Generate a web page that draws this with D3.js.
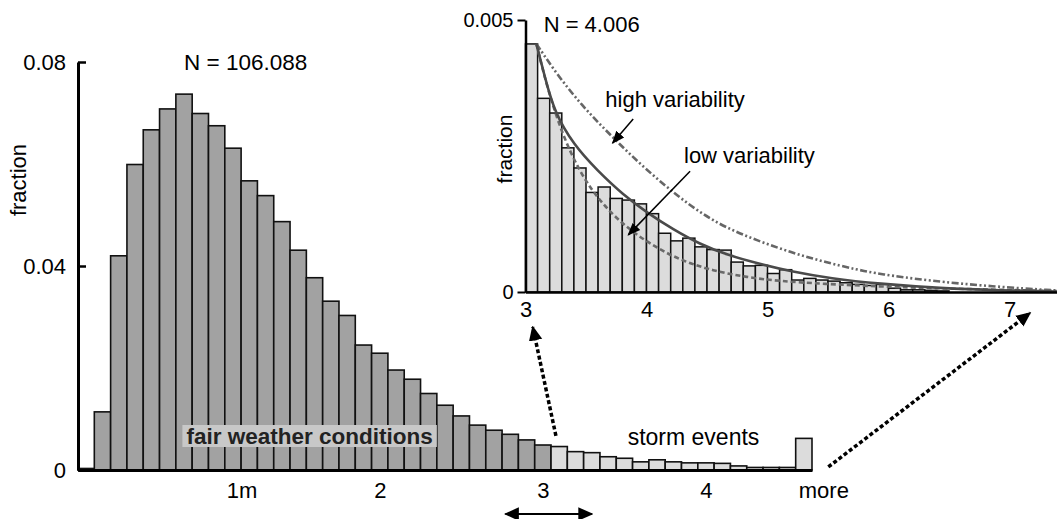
<!DOCTYPE html>
<html>
<head>
<meta charset="utf-8">
<script src="https://cdn.jsdelivr.net/npm/d3@7"></script>
<style>
body { margin: 0; background: #fff; }
svg { display: block; font-family: "Liberation Sans", Arial, Helvetica, sans-serif; }
</style>
</head>
<body>
<div id="chart"></div>
<script>
// main histogram: fraction per 0.1 m bin, first bin centred on 0.2 m, last bin = "more"
var mainFraction = [0.0003, 0.0114, 0.0420, 0.0599, 0.0667, 0.0708, 0.0737, 0.0699, 0.0675, 0.0631,
	0.0567, 0.0538, 0.0487, 0.0431, 0.0377, 0.0331, 0.0303, 0.0245, 0.0229, 0.0196,
	0.0178, 0.0150, 0.0127, 0.0106, 0.0088, 0.0078, 0.0070, 0.0059, 0.0049, 0.0046,
	0.0036, 0.0034, 0.0026, 0.0023, 0.0016, 0.0020, 0.0016, 0.0014, 0.0014, 0.0013,
	0.0008, 0.0005, 0.0005, 0.0005, 0.0062]
var mainFirstBin = 0.2
var binWidth = 0.1
var stormFrom = 3.05   // bins above this height count as storm events
var mainXTicks = [1, 2, 3, 4]
var mainXLabels = ["1m", "2", "3", "4"]
var mainYTicks = [0, 0.04, 0.08]

// inset: storm events only, bins from 3.0 m
var insetFraction = [0.00456, 0.00356, 0.00329, 0.00265, 0.00228, 0.00183, 0.00193, 0.00172, 0.00169, 0.00162,
	0.00144, 0.00108, 0.00094, 0.00099, 0.00083, 0.00078, 0.00077, 0.00055, 0.00048, 0.00049,
	0.00034, 0.00041, 0.00022, 0.00025, 0.00022, 0.00020, 0.00017, 0.00014, 0.00012, 0.00014,
	0.00007, 0.00004, 0.00004, 0.00003, 0.00002]
var insetFirstBin = 3.0
var insetXTicks = [3, 4, 5, 6, 7]
var insetYTicks = [0, 0.005]

// fitted curves: [height m, fraction]
var fitCurve = [[3.09, 0.00456], [3.16, 0.00395], [3.24, 0.00330], [3.40, 0.00270], [3.59, 0.00224],
	[3.81, 0.00178], [4.01, 0.00145], [4.22, 0.00115], [4.44, 0.00088], [4.67, 0.00068],
	[4.91, 0.00053], [5.21, 0.00037], [5.52, 0.00025], [5.92, 0.00015], [6.43, 0.000070],
	[6.92, 0.000030], [7.39, 0.000010]]
var lowVarCurve = [[3.09, 0.00456], [3.18, 0.00375], [3.30, 0.00292], [3.45, 0.00219], [3.62, 0.00165],
	[3.82, 0.00121], [4.03, 0.00088], [4.28, 0.00058], [4.55, 0.00039], [4.83, 0.00027],
	[5.10, 0.00020], [5.46, 0.00015], [5.93, 0.00010], [6.51, 0.000060], [7.39, 0.000018]]
var highVarCurve = [[3.09, 0.00456], [3.27, 0.00397], [3.47, 0.00342], [3.66, 0.00298], [3.85, 0.00256],
	[4.05, 0.00215], [4.26, 0.00176], [4.45, 0.00145], [4.65, 0.00119], [4.91, 0.00095],
	[5.19, 0.00073], [5.46, 0.00056], [5.74, 0.00041], [5.93, 0.00033], [6.32, 0.00021],
	[6.86, 0.00010], [7.39, 0.000028]]

var w = 1057, h = 519

var svg = d3.select("#chart")
	.append("svg")
	.attr("width", w)
	.attr("height", h)

// arrow heads
var defs = svg.append("defs")
defs.append("marker")
	.attr("id", "head")
	.attr("viewBox", "0 0 10 10")
	.attr("refX", 9).attr("refY", 5)
	.attr("markerUnits", "userSpaceOnUse")
	.attr("markerWidth", 15).attr("markerHeight", 15)
	.attr("orient", "auto-start-reverse")
	.append("path").attr("d", "M0,0.5 L10,5 L0,9.5 z").attr("fill", "#000")
defs.append("marker")
	.attr("id", "smallhead")
	.attr("viewBox", "0 0 10 10")
	.attr("refX", 9).attr("refY", 5)
	.attr("markerUnits", "userSpaceOnUse")
	.attr("markerWidth", 13).attr("markerHeight", 13)
	.attr("orient", "auto-start-reverse")
	.append("path").attr("d", "M0,1 L10,5 L0,9 z").attr("fill", "#000")

// ---------- main histogram ----------
var x = d3.scaleLinear().domain([0.15, 4.65]).range([78, 812])
var y = d3.scaleLinear().domain([0, 0.08]).range([470, 62])

var mainG = svg.append("g")

mainG.selectAll(".bar")
	.data(mainFraction)
	.enter()
	.append("rect")
	.attr("class", "bar")
	.attr("x", function(d, i) { return x(mainFirstBin + i * binWidth - binWidth / 2) })
	.attr("width", function() { return x(binWidth) - x(0) })
	.attr("y", function(d) { return y(d) })
	.attr("height", function(d) { return y(0) - y(d) })
	.attr("fill", function(d, i) { return mainFirstBin + i * binWidth > stormFrom ? "#dcdcdc" : "#a2a2a2" })
	.attr("stroke", "#111")
	.attr("stroke-width", 1.6)

// label boxes inside the histogram
var fair = mainG.append("g")
fair.append("rect")
	.attr("x", x(0.79)).attr("y", 425)
	.attr("width", x(2.35) - x(0.79)).attr("height", 22)
	.attr("fill", "#c8c8c8")
fair.append("text")
	.attr("x", (x(0.79) + x(2.35)) / 2).attr("y", 444)
	.attr("text-anchor", "middle")
	.attr("font-size", 22.5).attr("font-weight", "bold")
	.attr("fill", "#222")
	.text("fair weather conditions")

mainG.append("text")
	.attr("x", x(3.52)).attr("y", 445)
	.attr("font-size", 23)
	.text("storm events")

mainG.append("text")
	.attr("x", x(0.8)).attr("y", 70)
	.attr("font-size", 22.5)
	.text("N = 106.088")

// axes
var yAxis = d3.axisLeft(y)
	.tickValues(mainYTicks)
	.tickSize(-8)
	.tickSizeOuter(0)
	.tickPadding(12)
	.tickFormat(d3.format(""))
var yG = mainG.append("g").attr("transform", "translate(78,0)").call(yAxis)
yG.select(".domain").attr("stroke-width", 3)
yG.selectAll(".tick line").attr("stroke-width", 2.5)
yG.selectAll("text").attr("font-size", 22).attr("font-family", null).attr("fill", "#000")

var xAxis = d3.axisBottom(x)
	.tickValues(mainXTicks)
	.tickSize(0)
	.tickSizeOuter(0)
	.tickPadding(12)
	.tickFormat(function(d, i) { return mainXLabels[i] })
var xG = mainG.append("g").attr("transform", "translate(0,470)").call(xAxis)
xG.select(".domain").attr("stroke-width", 3)
xG.selectAll("text").attr("font-size", 22).attr("font-family", null).attr("fill", "#000")
xG.selectAll(".tick text").filter(function(d) { return d === 1 }).attr("dx", 25)

mainG.append("text")
	.attr("x", x(4.6) + 20).attr("y", 498)
	.attr("text-anchor", "middle")
	.attr("font-size", 22)
	.text("more")

mainG.append("text")
	.attr("transform", "translate(26,180) rotate(-90)")
	.attr("text-anchor", "middle")
	.attr("font-size", 22)
	.text("fraction")

// ---------- inset: storm events ----------
var xi = d3.scaleLinear().domain([3, 7.4]).range([525.5, 1057.9])
var yi = d3.scaleLinear().domain([0, 0.005]).range([292, 20])

var insetG = svg.append("g")

insetG.selectAll(".ibar")
	.data(insetFraction)
	.enter()
	.append("rect")
	.attr("class", "ibar")
	.attr("x", function(d, i) { return xi(insetFirstBin + i * binWidth) })
	.attr("width", function() { return xi(3 + binWidth) - xi(3) })
	.attr("y", function(d) { return yi(d) })
	.attr("height", function(d) { return yi(0) - yi(d) })
	.attr("fill", "#dcdcdc")
	.attr("stroke", "#111")
	.attr("stroke-width", 1.5)

var line = d3.line()
	.x(function(d) { return xi(d[0]) })
	.y(function(d) { return yi(d[1]) })
	.curve(d3.curveBasis)

insetG.append("path")
	.attr("d", line(highVarCurve))
	.attr("fill", "none")
	.attr("stroke", "#666")
	.attr("stroke-width", 2.6)
	.attr("stroke-dasharray", "7,2.5,2,2.5,2,2.5")
insetG.append("path")
	.attr("d", line(lowVarCurve))
	.attr("fill", "none")
	.attr("stroke", "#6a6a6a")
	.attr("stroke-width", 2.6)
	.attr("stroke-dasharray", "5,3")
insetG.append("path")
	.attr("d", line(fitCurve))
	.attr("fill", "none")
	.attr("stroke", "#4a4a4a")
	.attr("stroke-width", 2.6)

var yiAxis = d3.axisLeft(yi)
	.tickValues(insetYTicks)
	.tickSize(8)
	.tickSizeOuter(0)
	.tickPadding(4)
	.tickFormat(d3.format(""))
var yiG = insetG.append("g").attr("transform", "translate(" + xi(3) + ",0)").call(yiAxis)
yiG.select(".domain").attr("stroke-width", 2.5)
yiG.selectAll(".tick line").attr("stroke-width", 2)
yiG.selectAll("text").attr("font-size", 20).attr("font-family", null).attr("fill", "#000")

var xiAxis = d3.axisBottom(xi)
	.tickValues(insetXTicks)
	.tickSize(0)
	.tickSizeOuter(0)
	.tickPadding(9)
	.tickFormat(d3.format("d"))
var xiG = insetG.append("g").attr("transform", "translate(0," + yi(0) + ")").call(xiAxis)
xiG.select(".domain").attr("stroke-width", 2.5)
xiG.selectAll("text").attr("font-size", 22).attr("font-family", null).attr("fill", "#000")

insetG.append("text")
	.attr("x", xi(3.15)).attr("y", 32)
	.attr("font-size", 22)
	.text("N = 4.006")

insetG.append("text")
	.attr("transform", "translate(512,149) rotate(-90)")
	.attr("text-anchor", "middle")
	.attr("font-size", 21)
	.text("fraction")

insetG.append("text")
	.attr("x", xi(3.66)).attr("y", 107)
	.attr("font-size", 22)
	.text("high variability")
insetG.append("line")
	.attr("x1", xi(3.89)).attr("y1", yi(0.00318))
	.attr("x2", xi(3.72)).attr("y2", yi(0.00274))
	.attr("stroke", "#000").attr("stroke-width", 1.5)
	.attr("marker-end", "url(#smallhead)")

insetG.append("text")
	.attr("x", xi(4.31)).attr("y", 163)
	.attr("font-size", 22)
	.text("low variability")
insetG.append("line")
	.attr("x1", xi(4.36)).attr("y1", yi(0.00222))
	.attr("x2", xi(3.85)).attr("y2", yi(0.00105))
	.attr("stroke", "#000").attr("stroke-width", 1.5)
	.attr("marker-end", "url(#smallhead)")

// ---------- linking arrows ----------
svg.append("line")
	.attr("x1", x(3.08)).attr("y1", y(0.0067))
	.attr("x2", xi(3.06)).attr("y2", yi(0) + 35)
	.attr("stroke", "#000").attr("stroke-width", 3.5)
	.attr("stroke-dasharray", "4,2.5")
	.attr("marker-end", "url(#head)")

svg.append("line")
	.attr("x1", x(4.75)).attr("y1", y(0.0006))
	.attr("x2", xi(7.17)).attr("y2", yi(0) + 21)
	.attr("stroke", "#000").attr("stroke-width", 3.5)
	.attr("stroke-dasharray", "4,2.5")
	.attr("marker-end", "url(#head)")

svg.append("line")
	.attr("x1", x(2.77)).attr("y1", 514)
	.attr("x2", x(3.3)).attr("y2", 514)
	.attr("stroke", "#000").attr("stroke-width", 2)
	.attr("marker-start", "url(#head)")
	.attr("marker-end", "url(#head)")
</script>
</body>
</html>
